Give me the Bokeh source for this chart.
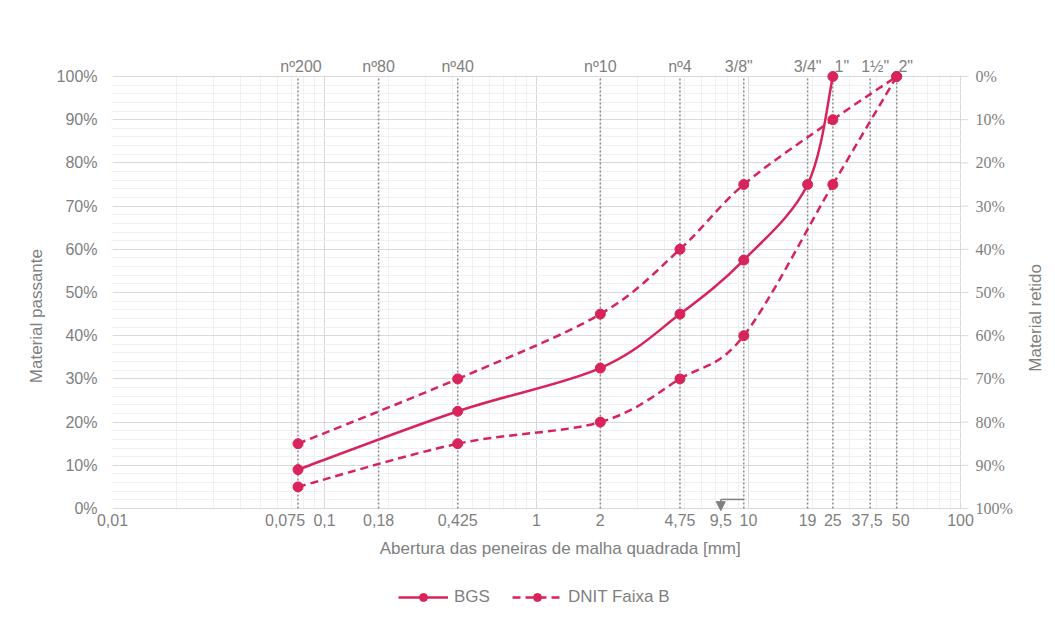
import math
import numpy as np
from bokeh.plotting import figure
from bokeh.layouts import column
from bokeh.models import (LogAxis, FixedTicker, Range1d, PrintfTickFormatter, BoxAnnotation,
                          Legend, LegendItem, Arrow, NormalHead, ColumnDataSource, Label, LabelSet)
from bokeh.embed import file_html
from bokeh.resources import INLINE

# ---------------- data ----------------
bgs_sizes = [0.075, 0.425, 2, 4.75, 9.5, 19, 25]
bgs_pass = [9, 22.5, 32.5, 45, 57.5, 75, 100]

dnit_sizes = [0.075, 0.425, 2, 4.75, 9.5, 25, 50]
dnit_max = [15, 30, 45, 60, 75, 90, 100]
dnit_min = [5, 15, 20, 30, 40, 75, 100]

sieve_sizes = [0.075, 0.18, 0.425, 2, 4.75, 9.5, 19, 25, 37.5, 50]
sieve_names = ["nº200", "nº80", "nº40", "nº10", "nº4", "3/8\"", "3/4\"", "1\"", "1½\"", "2\""]

x_ticks = [0.01, 0.075, 0.1, 0.18, 0.425, 1, 2, 4.75, 9.5, 10, 19, 25, 37.5, 50, 100]
x_tick_labels = ["0,01", "0,075", "0,1", "0,18", "0,425", "1", "2", "4,75", "9,5", "10", "19",
                 "25", "37,5", "50", "100"]
y_ticks = list(range(0, 101, 10))
retained_labels = [f"{100 - v}%" for v in y_ticks]

# ---------------- style ----------------
RED = "#d8245a"
TXT = "#7f7f7f"
FONT = "Liberation Sans"
GRID = "#d9d9d9"
MINOR = "#f0f0f0"
PLOT_W, PLOT_H = 848, 432      # 0.01..100 span and 0..100 % span in pixels
EXTRA_R = 90                   # frame continues right of 100 mm for the right-hand labels
PAD_V = 10                     # frame continues above 100 % and below 0 %
FW = PLOT_W + EXTRA_R
FH = PLOT_H + 2 * PAD_V
PPD = PLOT_W / 4.0             # pixels per decade
PPU = PLOT_H / 100.0           # pixels per percent
X_MIN, X_MAX = 0.01, 100
bottom_shift = {0.075: -13, 9.5: -23, 37.5: -3, 50: 4}
top_shift = {0.075: 3, 9.5: -5, 25: 9, 37.5: 5, 50: 9}

def px_right(x, px):
    return x * 10 ** (px / PPD)

def shifted(vals, shifts):
    return [px_right(v, shifts.get(v, 0)) for v in vals]

p = figure(x_axis_type="log", x_axis_location="above",
           x_range=Range1d(X_MIN, px_right(X_MAX, EXTRA_R)),
           y_range=Range1d(-PAD_V / PPU, 100 + PAD_V / PPU),
           frame_width=FW, frame_height=FH,
           min_border_left=112, min_border_right=3, min_border_top=76 - PAD_V,
           min_border_bottom=56 - PAD_V,
           output_backend="svg", toolbar_location=None, background_fill_color="white",
           border_fill_color="white")
p.outline_line_color = None

def style_axis(ax, label_size="16px"):
    ax.major_label_text_font = FONT
    ax.major_label_text_font_size = label_size
    ax.major_label_text_color = TXT
    ax.axis_label_text_font = FONT
    ax.axis_label_text_font_size = "17px"
    ax.axis_label_text_color = TXT
    ax.axis_label_text_font_style = "normal"
    ax.minor_tick_line_color = None
    ax.major_tick_in = 0
    ax.axis_line_color = None
    ax.major_tick_line_color = None
    ax.major_tick_out = 0

# grids
decades = [0.01, 0.1, 1, 10, 100]
minor_x = [k * d for d in decades[:-1] for k in range(2, 10)]
p.xgrid.ticker = FixedTicker(ticks=decades, minor_ticks=minor_x)
p.xgrid.grid_line_color = GRID
p.xgrid.minor_grid_line_color = MINOR
p.ygrid.ticker = FixedTicker(ticks=y_ticks, minor_ticks=list(range(0, 101, 2)))
p.ygrid.grid_line_color = GRID
p.ygrid.minor_grid_line_color = MINOR
# blank the grid outside the 0.01..100 mm x 0..100 % area
eps = 0.7
for box in [BoxAnnotation(left=px_right(X_MAX, eps)),
            BoxAnnotation(bottom=100 + eps / PPU),
            BoxAnnotation(top=-eps / PPU)]:
    box.fill_color = "white"
    box.fill_alpha = 1
    box.line_color = None
    box.level = "underlay"
    p.add_layout(box)

# top axis (sieve names)
ta = p.xaxis[0]
top_pos = shifted(sieve_sizes, top_shift)
ta.ticker = FixedTicker(ticks=top_pos)
ta.major_label_overrides = {t: l for t, l in zip(top_pos, sieve_names)}
style_axis(ta)
ta.major_label_standoff = 2 - PAD_V

# bottom axis (openings)
tick_pos = shifted(x_ticks, bottom_shift)
ba = LogAxis(ticker=FixedTicker(ticks=tick_pos),
             major_label_overrides={tp: l for tp, l in zip(tick_pos, x_tick_labels)},
             axis_label="Abertura das peneiras de malha quadrada [mm]         ")
style_axis(ba)
ba.major_label_standoff = 5 - PAD_V
ba.axis_label_standoff = 10
p.add_layout(ba, "below")

# left axis
ya = p.yaxis[0]
ya.ticker = FixedTicker(ticks=y_ticks)
ya.formatter = PrintfTickFormatter(format="%d%%")
ya.axis_label = "Material  passante         "
style_axis(ya)
ya.major_label_standoff = 15
ya.axis_label_standoff = 8

# right "axis": rule ticks, labels and title drawn at 100 mm
p.segment(x0=[X_MAX] * len(y_ticks), y0=y_ticks, x1=[px_right(X_MAX, 8)] * len(y_ticks),
          y1=y_ticks, line_color=GRID, line_width=1)
p.add_layout(LabelSet(source=ColumnDataSource(dict(x=[X_MAX] * len(y_ticks), y=y_ticks,
                                                   t=retained_labels)),
                      x="x", y="y", text="t", x_offset=15, text_align="left",
                      text_baseline="middle", text_font=FONT, text_font_size="16px",
                      text_color=TXT))
p.add_layout(Label(x=px_right(X_MAX, 75), y=50 - 23 / PPU, text="Material  retido",
                   angle=math.pi / 2, text_align="center", text_baseline="middle",
                   text_font=FONT, text_font_size="17px", text_color=TXT))

# sieve dotted lines
p.segment(x0=sieve_sizes, y0=[0] * len(sieve_sizes), x1=sieve_sizes, y1=[100] * len(sieve_sizes),
          line_color="#8c8c8c", line_width=1.5, line_dash="2 2")

# smoothed curves (Catmull-Rom -> cubic Bezier in log-x space)
def bezier_source(xs, ys):
    lx = np.log10(np.asarray(xs, dtype=float))
    y = np.asarray(ys, dtype=float)
    n = len(lx)
    d = dict(x0=[], y0=[], x1=[], y1=[], cx0=[], cy0=[], cx1=[], cy1=[])
    for i in range(n - 1):
        a = i - 1 if i > 0 else i
        b = i + 2 if i + 2 < n else i + 1
        c1x = lx[i] + (lx[i + 1] - lx[a]) / 6
        c1y = y[i] + (y[i + 1] - y[a]) / 6
        c2x = lx[i + 1] - (lx[b] - lx[i]) / 6
        c2y = y[i + 1] - (y[b] - y[i]) / 6
        d["x0"].append(10 ** lx[i]); d["y0"].append(y[i])
        d["x1"].append(10 ** lx[i + 1]); d["y1"].append(y[i + 1])
        d["cx0"].append(10 ** c1x); d["cy0"].append(c1y)
        d["cx1"].append(10 ** c2x); d["cy1"].append(c2y)
    return ColumnDataSource(d)

LW = 2.5
DASH = "8 5"
bz = dict(x0="x0", y0="y0", x1="x1", y1="y1", cx0="cx0", cy0="cy0", cx1="cx1", cy1="cy1")
p.bezier(source=bezier_source(dnit_sizes, dnit_max), line_color=RED, line_width=LW,
         line_dash=DASH, **bz)
p.bezier(source=bezier_source(dnit_sizes, dnit_min), line_color=RED, line_width=LW,
         line_dash=DASH, **bz)
p.bezier(source=bezier_source(bgs_sizes, bgs_pass), line_color=RED, line_width=LW, **bz)

p.scatter(dnit_sizes, dnit_max, size=10, color=RED)
p.scatter(dnit_sizes, dnit_min, size=10, color=RED)
p.scatter(bgs_sizes, bgs_pass, size=10, color=RED)

# bracket arrow from the 3/8" line to the shifted "9,5" label
x_arrow = px_right(9.5, bottom_shift[9.5])
p.add_layout(Arrow(x_start=9.5, y_start=2.1, x_end=x_arrow, y_end=2.1, end=None,
                   line_color="#808080", line_width=1.5))
p.add_layout(Arrow(x_start=x_arrow, y_start=2.1, x_end=x_arrow, y_end=-0.5,
                   end=NormalHead(size=9, fill_color="#808080", line_color="#808080"),
                   line_color="#808080", line_width=1.5))

# ---------------- legend strip (series drawn outside its view, only the legend shows) -------
TOTAL_W = 112 + FW + 3
LEG_H = 50
q = figure(width=TOTAL_W, height=LEG_H, x_range=Range1d(0, 0.001), y_range=Range1d(0, 1),
           x_axis_location=None, y_axis_location=None, min_border=0,
           output_backend="svg", toolbar_location=None)
q.outline_line_color = None
q.grid.visible = False
l_bgs = q.line(bgs_sizes, bgs_pass, line_color=RED, line_width=LW)
m_bgs = q.scatter(bgs_sizes, bgs_pass, size=10, color=RED)
l_dnit = q.line(dnit_sizes, dnit_max, line_color=RED, line_width=LW, line_dash=DASH)
m_dnit = q.scatter(dnit_sizes, dnit_max, size=10, color=RED)
legend = Legend(items=[LegendItem(label="BGS", renderers=[l_bgs, m_bgs]),
                       LegendItem(label="DNIT Faixa B", renderers=[l_dnit, m_dnit])],
                orientation="horizontal", location=(286, 7), padding=0, margin=0,
                border_line_color=None, background_fill_alpha=0,
                glyph_width=50, glyph_height=20, label_standoff=6, spacing=22,
                label_text_font=FONT, label_text_font_size="17px", label_text_color=TXT)
q.add_layout(legend)

open("out.html", "w").write(file_html(column(p, q), INLINE))
